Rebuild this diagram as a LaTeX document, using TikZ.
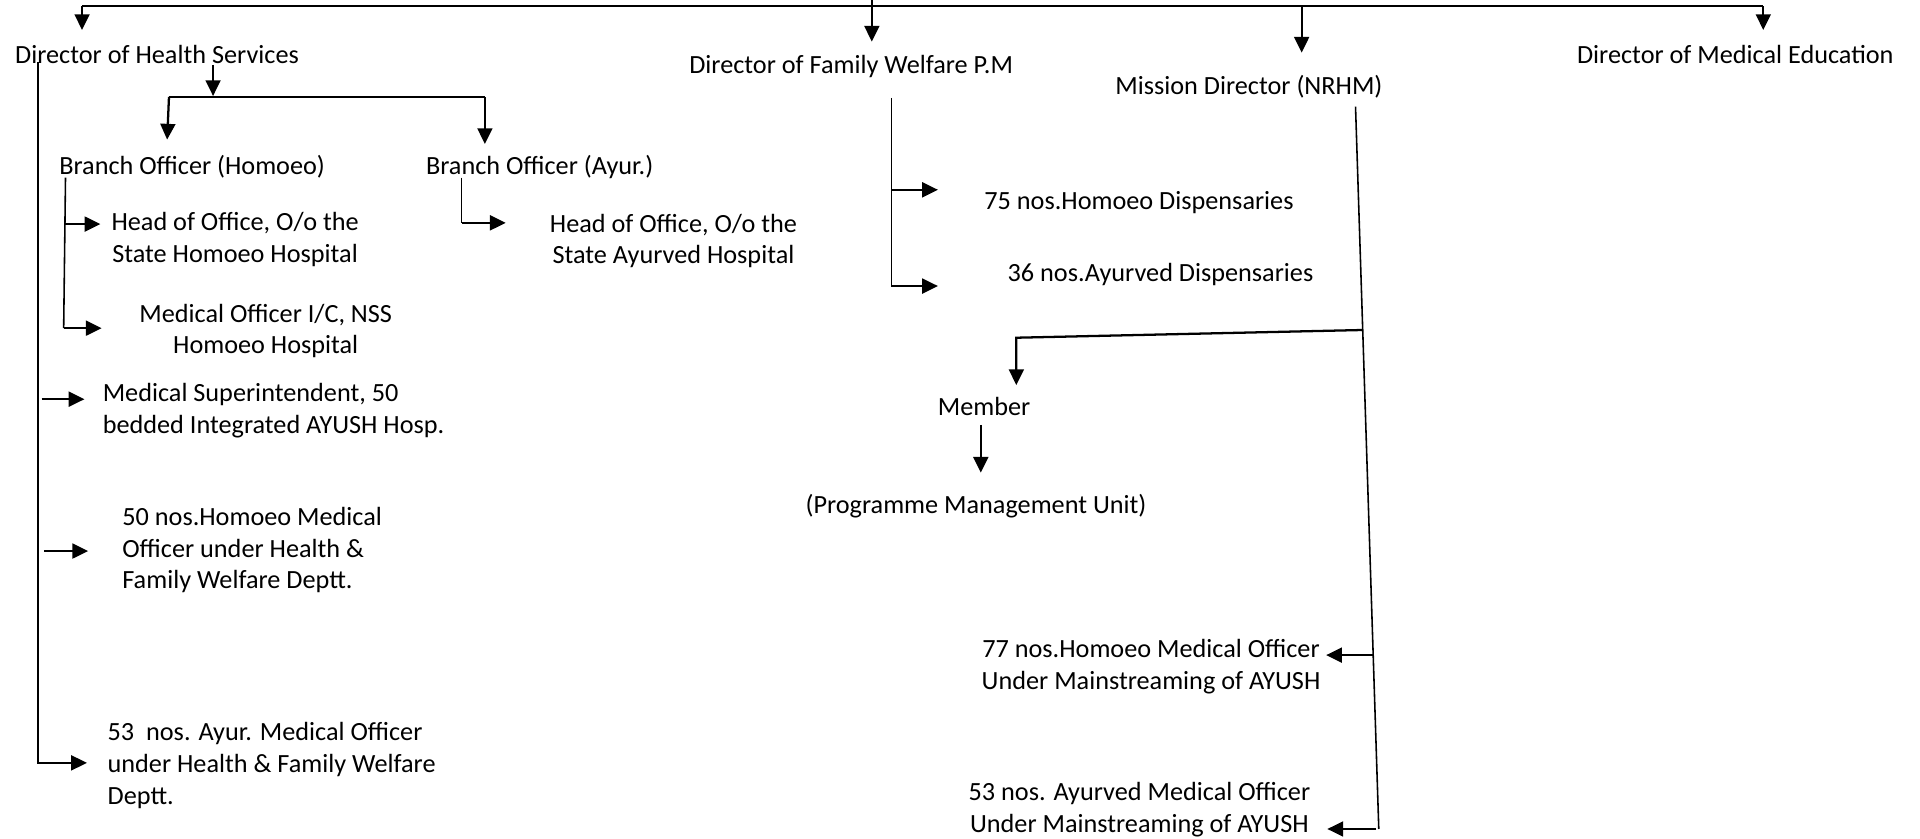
\documentclass[tikz,border=0pt]{standalone}
\usepackage{fontspec}
\setmainfont{Carlito}
\usetikzlibrary{arrows.meta,positioning}
\tikzset{lbl/.style={inner sep=0pt,anchor=base west,align=left,font=\fontsize{15}{18.2}\selectfont},
	ctr/.style={lbl,anchor=base,align=center},
	thin line/.style={line width=0.9pt}}
\begin{document}
\begin{tikzpicture}[x=0.7pt,y=-0.7pt,>={Triangle[length=9pt,width=8.5pt]},line width=1.3pt]
\useasboundingbox (0,0) rectangle (1568,684.4);
\node[lbl](dhs) at (11.5,51.7){Director of Health Services};
\node[lbl](dfw) at (562,60){Director of Family Welfare P.M};
\node[lbl](md) at (910,77){Mission Director (NRHM)};
\node[lbl](dme) at (1287,51.7){Director of Medical Education};
\node[lbl](boh) at (47.5,142.5){Branch Officer (Homoeo)};
\node[lbl](boa) at (347,142.5){Branch Officer (Ayur.)};
\node[ctr](hoh) at (192,214){Head of Office, O/o the\\State Homoeo Hospital};
\node[ctr](hoa) at (550,215.5){Head of Office, O/o the\\State Ayurved Hospital};
\node[ctr](moi) at (217,289){Medical Officer I/C, NSS\\Homoeo Hospital};
\node[lbl](ms) at (83,354){Medical Superintendent, 50\\bedded Integrated AYUSH Hosp.};
\node[lbl](hmo) at (99,481){50 nos.Homoeo Medical\\Officer under Health \&\\Family Welfare Deptt.};
\node[lbl](amo) at (87,657){53\ \ nos. Ayur. Medical Officer\\under Health \& Family Welfare\\Deptt.};
\node[lbl](hdisp) at (803,171){75 nos.Homoeo Dispensaries};
\node[lbl](adisp) at (822,230){36 nos.Ayurved Dispensaries};
\node[lbl](mem) at (765,339.5){Member};
\node[lbl](pmu) at (657,419){(Programme Management Unit)};
\node[ctr](hmain) at (940,563){77 nos.Homoeo Medical Officer\\Under Mainstreaming of AYUSH};
\node[ctr](amain) at (930.5,680){53 nos. Ayurved Medical Officer\\Under Mainstreaming of AYUSH};

\coordinate (bus) at (712,5);
\draw (67,5) -- (1440,5);
\draw[->] (712,-5) -- (712,34);
\foreach \x/\y in {67/24.5,1063/43,1440/24.5}
	\draw[->] (\x,5) -- (\x,\y);

\draw[->] (174,53) -- (174,78.4);
\draw (138,79.2) -- (396,79.2);
\draw[->] (138,79.2) -- (136.5,114);
\draw[->] (396,79.2) -- (396,117.6);
\draw[->] (31,50.6) -- (31,623) -- (71,623);
\draw[->] (34,326) -- (69,326);
\draw[->] (36,450) -- (72,450);
\draw[thin line] (53.5,145) -- (52,268);
\draw[->] (52,268) -- (83,268);
\draw[->] (53,183) -- (82,183);
\draw[thin line] (377,145) -- (377,182);
\draw[->] (377,182) -- (413,182);

\draw[thin line] (728,80) -- (728,233.6);
\draw[->] (728,155) -- (766,155);
\draw[->] (728,233.6) -- (766,233.6);
\draw[thin line] (1107,87) -- (1126,677);
\draw[->] (1112.5,269.5) -- (830,275.8) -- (830,314.5);
\draw[->] (801,347) -- (801,386);
\draw[->] (1121,535) -- (1083,535);
\draw[->] (1124,677) -- (1084,677);
\end{tikzpicture}
\end{document}
